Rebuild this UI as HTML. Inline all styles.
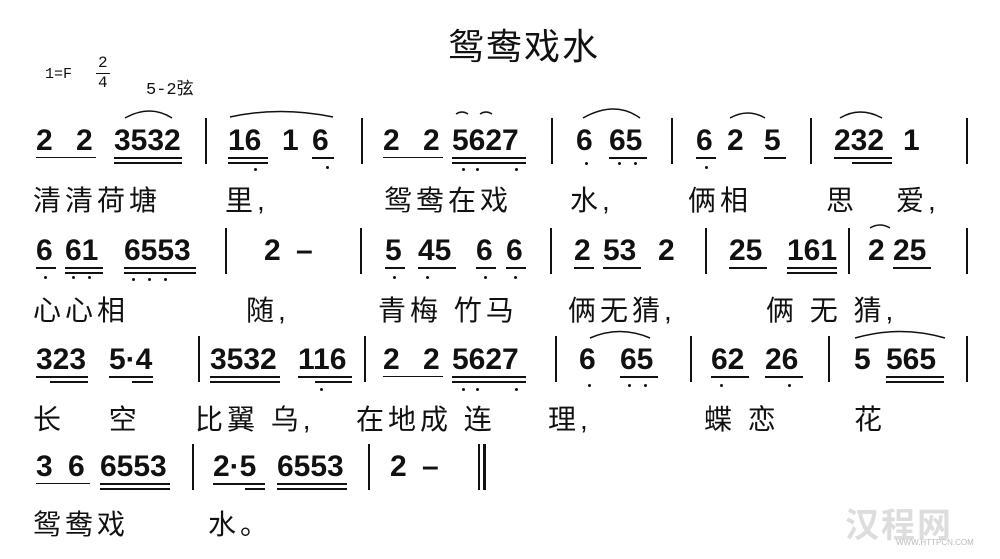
<!DOCTYPE html>
<html><head><meta charset="utf-8"><style>
body{margin:0;width:1000px;height:559px;background:#fff;position:relative;overflow:hidden;font-family:"Liberation Sans",sans-serif;color:#111}
.n{position:absolute;font:bold 30px "Liberation Sans",sans-serif;letter-spacing:0;line-height:30px;white-space:pre}
.l{position:absolute;font:28px "Liberation Sans","Noto Sans CJK SC",sans-serif;letter-spacing:4px;white-space:pre;line-height:30px}
.b{position:absolute;width:2px;background:#111}
.u{position:absolute;height:2px;background:#111}
.d{position:absolute;width:3px;height:3px;background:#111;border-radius:50%}
svg{position:absolute;left:0;top:0}
</style></head><body>
<div class="l" style="left:448px;top:32px;font-size:36px;letter-spacing:2px">鸳鸯戏水</div>
<div style="position:absolute;left:45px;top:66px;font:15px 'Liberation Mono',monospace">1=F</div>
<div style="position:absolute;left:98px;top:53px;font:16px 'Liberation Mono',monospace;line-height:20px">2<br>4</div>
<div style="position:absolute;left:96px;top:73px;width:14px;height:1px;background:#111"></div>
<div style="position:absolute;left:146px;top:74px;font:17px 'Liberation Mono','Noto Sans CJK SC',monospace">5-2弦</div>

<svg width="1000" height="559" fill="none" stroke="#111" stroke-width="1.5">
<path d="M125 118 Q150 104 172 118"/><path d="M230 117 Q280 106 333 117"/><path d="M456 114 Q462 110 468 114"/><path d="M480 114 Q486 110 492 114"/>
<path d="M583 118 Q615 100 640 118"/><path d="M730 118 Q748 108 765 118"/><path d="M840 118 Q860 106 882 118"/>
<path d="M870 228 Q880 222 890 228"/><path d="M590 338 Q620 325 650 338"/><path d="M855 338 Q900 325 945 338"/>
</svg>

<!-- row1 -->
<div class="n" style="left:36px;top:126px">2</div><div class="n" style="left:76px;top:126px">2</div><div class="n" style="left:114px;top:126px">3532</div>
<div class="b" style="left:205px;top:118px;height:46px"></div>
<div class="n" style="left:228px;top:126px">16</div><div class="n" style="left:282px;top:126px">1</div><div class="n" style="left:312px;top:126px">6</div>
<div class="b" style="left:361px;top:118px;height:46px"></div>
<div class="n" style="left:383px;top:126px">2</div><div class="n" style="left:423px;top:126px">2</div><div class="n" style="left:452px;top:126px">5627</div>
<div class="b" style="left:551px;top:118px;height:46px"></div>
<div class="n" style="left:576px;top:126px">6</div><div class="n" style="left:609px;top:126px">65</div>
<div class="b" style="left:671px;top:118px;height:46px"></div>
<div class="n" style="left:696px;top:126px">6</div><div class="n" style="left:727px;top:126px">2</div><div class="n" style="left:764px;top:126px">5</div>
<div class="b" style="left:810px;top:118px;height:46px"></div>
<div class="n" style="left:834px;top:126px">232</div><div class="n" style="left:903px;top:126px">1</div>
<div class="b" style="left:966px;top:118px;height:46px"></div>
<div class="u" style="left:36px;top:157px;width:60px;height:1px"></div>
<div class="u" style="left:114px;top:157px;width:68px"></div><div class="u" style="left:114px;top:162px;width:68px"></div>
<div class="u" style="left:228px;top:157px;width:40px"></div><div class="u" style="left:228px;top:162px;width:40px"></div><div class="u" style="left:312px;top:157px;width:22px"></div>
<div class="u" style="left:383px;top:157px;width:60px;height:1px"></div>
<div class="u" style="left:452px;top:157px;width:74px"></div><div class="u" style="left:452px;top:162px;width:74px"></div>
<div class="u" style="left:609px;top:157px;width:38px"></div>
<div class="u" style="left:696px;top:157px;width:20px"></div><div class="u" style="left:764px;top:157px;width:22px"></div>
<div class="u" style="left:834px;top:157px;width:58px"></div><div class="u" style="left:852px;top:162px;width:40px"></div>
<div class="d" style="left:254px;top:168px"></div><div class="d" style="left:326px;top:166px"></div>
<div class="d" style="left:462px;top:168px"></div><div class="d" style="left:476px;top:168px"></div><div class="d" style="left:515px;top:168px"></div>
<div class="d" style="left:585px;top:162px"></div><div class="d" style="left:618px;top:162px"></div><div class="d" style="left:634px;top:162px"></div>
<div class="d" style="left:705px;top:166px"></div>
<div class="l" style="left:33px;top:186px">清清荷塘</div><div class="l" style="left:225px;top:186px">里,</div>
<div class="l" style="left:384px;top:186px">鸳鸯在戏</div><div class="l" style="left:570px;top:186px">水,</div>
<div class="l" style="left:688px;top:186px">俩相</div><div class="l" style="left:826px;top:186px">思</div><div class="l" style="left:896px;top:186px">爱,</div>

<!-- row2 -->
<div class="n" style="left:36px;top:236px">6</div><div class="n" style="left:65px;top:236px">61</div><div class="n" style="left:124px;top:236px">6553</div>
<div class="b" style="left:225px;top:228px;height:46px"></div>
<div class="n" style="left:264px;top:236px">2</div><div class="n" style="left:296px;top:236px">–</div>
<div class="b" style="left:360px;top:228px;height:46px"></div>
<div class="n" style="left:385px;top:236px">5</div><div class="n" style="left:418px;top:236px">45</div><div class="n" style="left:476px;top:236px">6</div><div class="n" style="left:506px;top:236px">6</div>
<div class="b" style="left:550px;top:228px;height:46px"></div>
<div class="n" style="left:574px;top:236px">2</div><div class="n" style="left:603px;top:236px">53</div><div class="n" style="left:658px;top:236px">2</div>
<div class="b" style="left:705px;top:228px;height:46px"></div>
<div class="n" style="left:729px;top:236px">25</div><div class="n" style="left:787px;top:236px">161</div>
<div class="b" style="left:848px;top:228px;height:46px"></div>
<div class="n" style="left:868px;top:236px">2</div><div class="n" style="left:893px;top:236px">25</div>
<div class="b" style="left:966px;top:228px;height:46px"></div>
<div class="u" style="left:36px;top:267px;width:20px"></div><div class="u" style="left:65px;top:267px;width:38px"></div><div class="u" style="left:65px;top:272px;width:38px"></div>
<div class="u" style="left:124px;top:267px;width:72px"></div><div class="u" style="left:124px;top:272px;width:72px"></div>
<div class="u" style="left:385px;top:267px;width:20px"></div><div class="u" style="left:418px;top:267px;width:38px"></div><div class="u" style="left:476px;top:267px;width:20px"></div><div class="u" style="left:506px;top:267px;width:20px"></div>
<div class="u" style="left:574px;top:267px;width:20px"></div><div class="u" style="left:603px;top:267px;width:38px"></div>
<div class="u" style="left:729px;top:267px;width:38px"></div><div class="u" style="left:787px;top:267px;width:50px"></div><div class="u" style="left:787px;top:272px;width:50px"></div>
<div class="u" style="left:893px;top:267px;width:38px"></div>
<div class="d" style="left:44px;top:276px"></div><div class="d" style="left:72px;top:276px"></div><div class="d" style="left:88px;top:276px"></div>
<div class="d" style="left:132px;top:278px"></div><div class="d" style="left:148px;top:278px"></div><div class="d" style="left:164px;top:278px"></div>
<div class="d" style="left:393px;top:276px"></div><div class="d" style="left:426px;top:276px"></div><div class="d" style="left:484px;top:276px"></div><div class="d" style="left:514px;top:276px"></div>
<div class="l" style="left:33px;top:296px">心心相</div><div class="l" style="left:246px;top:296px">随,</div>
<div class="l" style="left:378px;top:296px">青梅 竹马</div><div class="l" style="left:568px;top:296px">俩无猜,</div><div class="l" style="left:766px;top:296px">俩 无 猜,</div>

<!-- row3 -->
<div class="n" style="left:36px;top:345px">323</div><div class="n" style="left:109px;top:345px">5·4</div>
<div class="b" style="left:198px;top:336px;height:46px"></div>
<div class="n" style="left:210px;top:345px">3532</div><div class="n" style="left:298px;top:345px">116</div>
<div class="b" style="left:364px;top:336px;height:46px"></div>
<div class="n" style="left:383px;top:345px">2</div><div class="n" style="left:423px;top:345px">2</div><div class="n" style="left:452px;top:345px">5627</div>
<div class="b" style="left:555px;top:336px;height:46px"></div>
<div class="n" style="left:579px;top:345px">6</div><div class="n" style="left:620px;top:345px">65</div>
<div class="b" style="left:690px;top:336px;height:46px"></div>
<div class="n" style="left:711px;top:345px">62</div><div class="n" style="left:765px;top:345px">26</div>
<div class="b" style="left:828px;top:336px;height:46px"></div>
<div class="n" style="left:854px;top:345px">5</div><div class="n" style="left:886px;top:345px">565</div>
<div class="b" style="left:966px;top:336px;height:46px"></div>
<div class="u" style="left:36px;top:376px;width:52px"></div><div class="u" style="left:50px;top:381px;width:38px"></div>
<div class="u" style="left:109px;top:376px;width:44px"></div><div class="u" style="left:132px;top:381px;width:21px"></div>
<div class="u" style="left:210px;top:376px;width:70px"></div><div class="u" style="left:210px;top:381px;width:70px"></div>
<div class="u" style="left:298px;top:376px;width:54px"></div><div class="u" style="left:315px;top:381px;width:37px"></div>
<div class="u" style="left:383px;top:376px;width:60px;height:1px"></div>
<div class="u" style="left:452px;top:376px;width:74px"></div><div class="u" style="left:452px;top:381px;width:74px"></div>
<div class="u" style="left:620px;top:376px;width:38px"></div>
<div class="u" style="left:711px;top:376px;width:38px"></div><div class="u" style="left:765px;top:376px;width:38px"></div>
<div class="u" style="left:886px;top:376px;width:58px"></div><div class="u" style="left:886px;top:381px;width:58px"></div>
<div class="d" style="left:320px;top:388px"></div><div class="d" style="left:462px;top:388px"></div><div class="d" style="left:476px;top:388px"></div><div class="d" style="left:515px;top:388px"></div>
<div class="d" style="left:588px;top:384px"></div><div class="d" style="left:628px;top:384px"></div><div class="d" style="left:644px;top:384px"></div>
<div class="d" style="left:720px;top:384px"></div><div class="d" style="left:788px;top:384px"></div>
<div class="l" style="left:33px;top:405px">长　 空</div><div class="l" style="left:195px;top:405px">比翼 乌,</div>
<div class="l" style="left:356px;top:405px">在地成 连</div><div class="l" style="left:548px;top:405px">理,</div>
<div class="l" style="left:704px;top:405px">蝶 恋</div><div class="l" style="left:854px;top:405px">花</div>

<!-- row4 -->
<div class="n" style="left:36px;top:452px">3</div><div class="n" style="left:68px;top:452px">6</div><div class="n" style="left:100px;top:452px">6553</div>
<div class="b" style="left:192px;top:444px;height:46px"></div>
<div class="n" style="left:213px;top:452px">2·5</div><div class="n" style="left:277px;top:452px">6553</div>
<div class="b" style="left:368px;top:444px;height:46px"></div>
<div class="n" style="left:390px;top:452px">2</div><div class="n" style="left:422px;top:452px">–</div>
<div class="b" style="left:478px;top:444px;height:46px"></div><div class="b" style="left:483px;top:444px;height:46px;width:3px"></div>
<div class="u" style="left:36px;top:483px;width:54px;height:1px"></div>
<div class="u" style="left:100px;top:483px;width:70px"></div><div class="u" style="left:100px;top:488px;width:70px"></div>
<div class="u" style="left:213px;top:483px;width:52px"></div><div class="u" style="left:245px;top:488px;width:20px"></div>
<div class="u" style="left:277px;top:483px;width:70px"></div><div class="u" style="left:277px;top:488px;width:70px"></div>
<div class="l" style="left:33px;top:510px">鸳鸯戏</div><div class="l" style="left:208px;top:510px">水。</div>

<div style="position:absolute;left:845px;top:498px;font:bold 34px 'Liberation Sans','Noto Sans CJK SC',sans-serif;color:#ddd;letter-spacing:2px">汉程网</div>
<div style="position:absolute;left:896px;top:538px;font:8px 'Liberation Sans';color:#bbb">WWW.HTTPCN.COM</div>
</body></html>
